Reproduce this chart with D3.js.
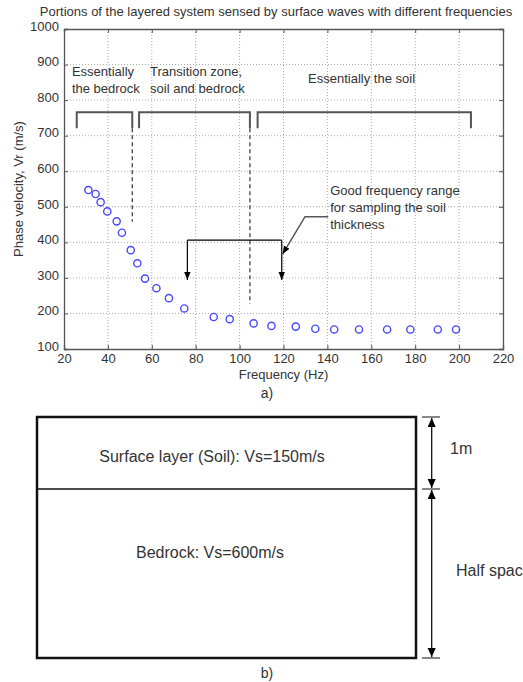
<!DOCTYPE html>
<html><head><meta charset="utf-8">
<script src="https://cdn.jsdelivr.net/npm/d3@7"></script>
<style>
body{margin:0;background:#fff;}
svg{display:block;font-family:"Liberation Sans",Arial,sans-serif;}
</style></head>
<body>
<svg id="c" width="523" height="682"></svg>
<script>
// ---- data ----
const freq = [31.1, 34.4, 36.7, 39.7, 44.0, 46.4, 50.4, 53.4, 56.9, 62.1, 67.8, 74.8, 88.2, 95.5, 106.4, 114.5, 125.6, 134.5, 143.1, 154.4, 167.2, 177.8, 190.3, 198.6];
const vel  = [547, 536, 513, 487, 459, 427, 378, 341, 298, 271, 243, 214, 190, 184, 172, 165, 163, 157, 155, 155, 155, 155, 155, 155];
const xTicks = [20, 40, 60, 80, 100, 120, 140, 160, 180, 200, 220];
const yTicks = [100, 200, 300, 400, 500, 600, 700, 800, 900, 1000];
const bracketRanges = [[25.8, 51.1], [54.2, 104.7], [108.2, 205.4]];
const bracketTop = 766, bracketBottom = 721;
const dashedLines = [[51.1, 721, 458], [104.7, 721, 227]];
const regionLabels = [["Essentially", "the bedrock"], ["Transition zone,", "soil and bedrock"], ["Essentially the soil"]];
const rangeArrow = {from: 76.2, to: 119.2, top: 406, bottom: 294};
const pointer = [[140.4, 472], [129.8, 472], [119.6, 367]];
const noteLines = ["Good frequency range", "for sampling the soil", "thickness"];
const title = "Portions of the layered system sensed by surface waves with different frequencies";
const layerTexts = ["Surface layer (Soil): Vs=150m/s", "Bedrock: Vs=600m/s"];
const sideTexts = ["1m", "Half space"];

const svg = d3.select("#c");
const defs = svg.append("defs");
defs.append("marker").attr("id","ah").attr("viewBox","0 0 10 10").attr("refX",10).attr("refY",5)
  .attr("markerWidth",8).attr("markerHeight",8).attr("markerUnits","userSpaceOnUse").attr("orient","auto")
  .append("path").attr("d","M0,1 L10,5 L0,9 z").attr("fill","#000");
defs.append("marker").attr("id","ah2").attr("viewBox","0 0 10 10").attr("refX",10).attr("refY",5)
  .attr("markerWidth",9).attr("markerHeight",9).attr("markerUnits","userSpaceOnUse").attr("orient","auto")
  .append("path").attr("d","M0,0.5 L10,5 L0,9.5 z").attr("fill","#000");

const m = {l:64, t:29, w:439, h:320};
const x = d3.scaleLinear().domain([20,220]).range([m.l, m.l+m.w]);
const y = d3.scaleLinear().domain([100,1000]).range([m.t+m.h, m.t]);
const txt = "#333";

// grid
const g = svg.append("g");
g.selectAll(".gx").data(xTicks.slice(1,-1)).join("line")
  .attr("x1",d=>x(d)).attr("x2",d=>x(d)).attr("y1",m.t).attr("y2",m.t+m.h)
  .attr("stroke","#aaa").attr("stroke-dasharray","1,2");
g.selectAll(".gy").data(yTicks.slice(1,-1)).join("line")
  .attr("y1",d=>y(d)).attr("y2",d=>y(d)).attr("x1",m.l).attr("x2",m.l+m.w)
  .attr("stroke","#aaa").attr("stroke-dasharray","1,2");

// axes (MATLAB box, inward ticks)
const axB = svg.append("g").attr("transform",`translate(0,${m.t+m.h})`)
  .call(d3.axisBottom(x).tickValues(xTicks).tickSize(-4).tickPadding(6).tickFormat(d3.format("d")));
const axT = svg.append("g").attr("transform",`translate(0,${m.t})`)
  .call(d3.axisTop(x).tickValues(xTicks).tickSize(-4).tickFormat(""));
const axL = svg.append("g").attr("transform",`translate(${m.l},0)`)
  .call(d3.axisLeft(y).tickValues(yTicks).tickSize(-4).tickPadding(5).tickFormat(d3.format("d")));
const axR = svg.append("g").attr("transform",`translate(${m.l+m.w},0)`)
  .call(d3.axisRight(y).tickValues(yTicks).tickSize(-4).tickFormat(""));
[axB,axT,axL,axR].forEach(a=>{
  a.selectAll("path").attr("stroke","#555").attr("stroke-width",1.3);
  a.selectAll("line").attr("stroke","#555");
  a.selectAll("text").attr("fill",txt).style("font-size","13px").style("font-family","Liberation Sans, Arial, sans-serif");
});
axB.selectAll("text").attr("dy","0.6em");
axL.selectAll("text").attr("dy","0.1em");

// title & labels
svg.append("text").attr("x",276).attr("y",16).attr("text-anchor","middle")
  .attr("fill",txt).style("font-size","13px").text(title);
svg.append("text").attr("transform",`translate(23,${m.t+m.h/2}) rotate(-90)`).attr("text-anchor","middle")
  .attr("fill",txt).style("font-size","13px").text("Phase velocity, Vr (m/s)");
svg.append("text").attr("x",x(120)).attr("y",379).attr("text-anchor","middle")
  .attr("fill",txt).style("font-size","13px").text("Frequency (Hz)");
svg.append("text").attr("x",267).attr("y",398).attr("text-anchor","middle")
  .attr("fill",txt).style("font-size","14px").text("a)");

// brackets
svg.selectAll(".br").data(bracketRanges).join("path")
  .attr("d",d=>`M${x(d[0])},${y(bracketBottom)}V${y(bracketTop)}H${x(d[1])}V${y(bracketBottom)}`)
  .attr("fill","none").attr("stroke","#555").attr("stroke-width",2);
// dashed
svg.selectAll(".ds").data(dashedLines).join("line")
  .attr("x1",d=>x(d[0])).attr("x2",d=>x(d[0])).attr("y1",d=>y(d[1])).attr("y2",d=>y(d[2]))
  .attr("stroke","#333").attr("stroke-width",1.2).attr("stroke-dasharray","4,3");

// region labels
const rl = [[23.6, 76], [59.2, 76], [131.2, 83]];
regionLabels.forEach((lines,i)=>{
  const t = svg.append("text").attr("x",x(rl[i][0])).attr("y",rl[i][1]).attr("fill",txt).style("font-size","13px");
  lines.forEach((s,j)=>t.append("tspan").attr("x",x(rl[i][0])).attr("dy",j?17:0).text(s));
});

// range arrow
svg.append("path")
  .attr("d",`M${x(rangeArrow.from)},${y(rangeArrow.top)}H${x(rangeArrow.to)}`)
  .attr("stroke","#000").attr("stroke-width",1.2).attr("fill","none");
[rangeArrow.from, rangeArrow.to].forEach(f=>{
  svg.append("line").attr("x1",x(f)).attr("x2",x(f)).attr("y1",y(rangeArrow.top)).attr("y2",y(rangeArrow.bottom))
    .attr("stroke","#000").attr("stroke-width",1.2).attr("marker-end","url(#ah)");
});
// pointer
svg.append("path").attr("d",d3.line().x(d=>x(d[0])).y(d=>y(d[1]))(pointer))
  .attr("fill","none").attr("stroke","#555").attr("stroke-width",1.5).attr("marker-end","url(#ah)");
const nt = svg.append("text").attr("fill",txt).style("font-size","13px");
noteLines.forEach((s,j)=>nt.append("tspan").attr("x",x(141.3)).attr("y",195+17*j).text(s));

// points
svg.selectAll(".pt").data(freq.map((f,i)=>[f,vel[i]])).join("circle")
  .attr("cx",d=>x(d[0])).attr("cy",d=>y(d[1])).attr("r",3.6)
  .attr("fill","none").attr("stroke","#4848ff").attr("stroke-width",1.4);

// ---- panel b ----
const bx0 = 37, bx1 = 416, by0 = 417, by1 = 658, byMid = 489;
svg.append("rect").attr("x",bx0).attr("y",by0).attr("width",bx1-bx0).attr("height",by1-by0)
  .attr("fill","none").attr("stroke","#111").attr("stroke-width",2.5);
svg.append("line").attr("x1",bx0).attr("x2",bx1).attr("y1",byMid).attr("y2",byMid)
  .attr("stroke","#111").attr("stroke-width",1.6);
svg.append("text").attr("x",212).attr("y",462).attr("text-anchor","middle").attr("fill",txt)
  .style("font-size","16px").text(layerTexts[0]);
svg.append("text").attr("x",210).attr("y",558).attr("text-anchor","middle").attr("fill",txt)
  .style("font-size","16px").text(layerTexts[1]);
const dx = 431.7;
[by0, byMid, by1].forEach(yy=>svg.append("line").attr("x1",422).attr("x2",440).attr("y1",yy).attr("y2",yy)
  .attr("stroke","#111").attr("stroke-width",1));
[[byMid-1,by0+1],[by0+1,byMid-1],[byMid+1,by1-1],[by1-1,byMid+1]].forEach(([a,b])=>{
  svg.append("line").attr("x1",dx).attr("x2",dx).attr("y1",a).attr("y2",b)
    .attr("stroke","#111").attr("stroke-width",1).attr("marker-end","url(#ah2)");
});
svg.append("text").attr("x",450).attr("y",454).attr("fill",txt).style("font-size","16px").text(sideTexts[0]);
svg.append("text").attr("x",456).attr("y",576).attr("fill",txt).style("font-size","16px").text(sideTexts[1]);
svg.append("text").attr("x",267).attr("y",678).attr("text-anchor","middle").attr("fill",txt)
  .style("font-size","14px").text("b)");
</script>
</body></html>
